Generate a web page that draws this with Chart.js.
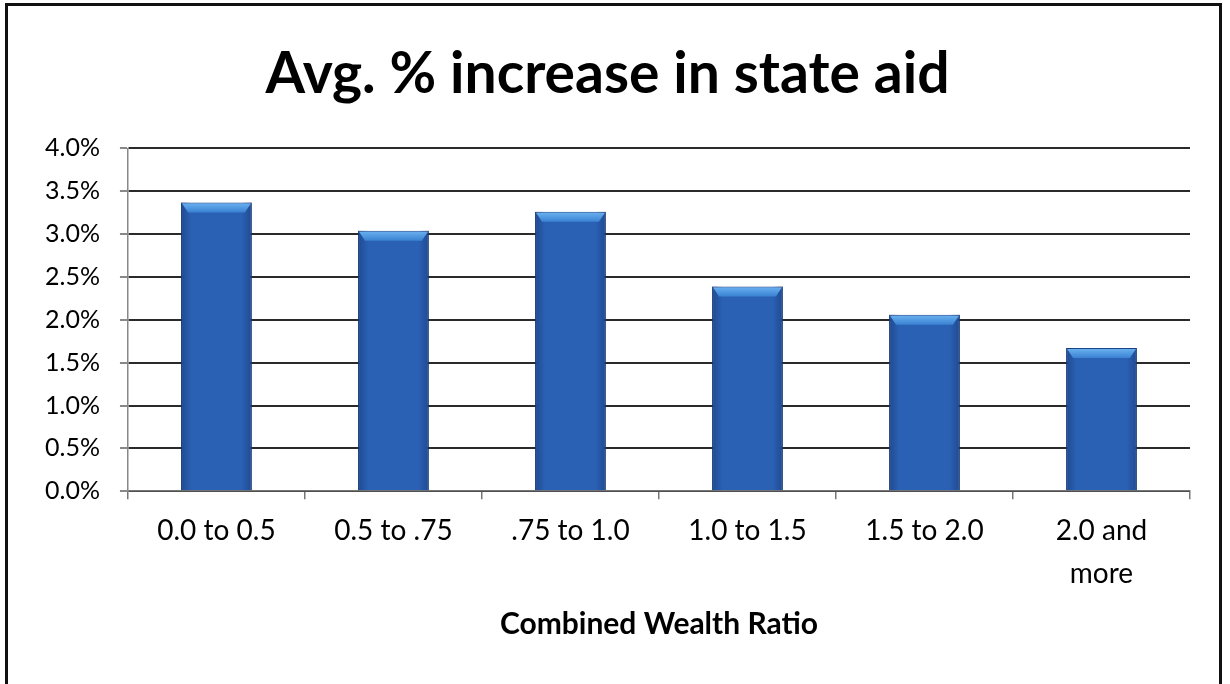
<!DOCTYPE html>
<html>
<head>
<meta charset="utf-8">
<script src="https://cdn.jsdelivr.net/npm/chart.js@4.4.0/dist/chart.umd.min.js"></script>
<style>
  html, body { margin: 0; padding: 0; background: #fff; }
  #marco { position: relative; width: 1230px; height: 684px; overflow: hidden; }
  #borde { position: absolute; left: 5px; top: 3px; width: 1217px; height: 700px; border: 3px solid #111; box-sizing: border-box; }
  canvas { position: absolute; left: 0; top: 0; }
</style>
</head>
<body>
<div id="marco">
  <div id="borde"></div>
  <canvas id="plot" width="1230" height="684"></canvas>
</div>
<script>
// datos
const categorias = ['0.0 to 0.5', '0.5 to .75', '.75 to 1.0', '1.0 to 1.5', '1.5 to 2.0', ['2.0 and', 'more']];
const valores = [3.37, 3.04, 3.26, 2.39, 2.06, 1.67];
const yMin = 0;
const yMax = 4;
const yPaso = 0.5;

const fuente = 'Lato, "Open Sans", sans-serif';

// brillo en la parte superior de cada barra
let bisel = {
  id: 'bisel',
  afterDatasetsDraw: (chart) => {
    let ctx = chart.ctx;
    let meta = chart.getDatasetMeta(0);
    meta.data.forEach(bar => {
      let izq = bar.x - bar.width / 2;
      let der = bar.x + bar.width / 2;
      let arriba = bar.y;
      // sombreado lateral
      let lado = ctx.createLinearGradient(izq, 0, der, 0);
      lado.addColorStop(0, 'rgba(10,30,80,0.35)');
      lado.addColorStop(0.15, 'rgba(10,30,80,0)');
      lado.addColorStop(0.85, 'rgba(10,30,80,0)');
      lado.addColorStop(1, 'rgba(10,30,80,0.35)');
      ctx.save();
      ctx.fillStyle = lado;
      ctx.fillRect(izq, arriba, bar.width, bar.base - arriba);
      let g = ctx.createLinearGradient(0, arriba, 0, arriba + 10);
      g.addColorStop(0, '#6db4f2');
      g.addColorStop(1, '#3a82d2');
      ctx.fillStyle = g;
      ctx.beginPath();
      ctx.moveTo(izq + 1, arriba + 1);
      ctx.lineTo(der - 1, arriba + 1);
      ctx.lineTo(der - 7, arriba + 10);
      ctx.lineTo(izq + 7, arriba + 10);
      ctx.closePath();
      ctx.fill();
      ctx.restore();
    });
  }
};

let plotRef = document.getElementById('plot');

let config = {
  type: 'bar',
  data: {
    labels: categorias,
    datasets: [
      {
        label: 'Avg. % increase',
        data: valores,
        backgroundColor: '#2b61b4',
        borderColor: '#1c4688',
        borderWidth: 1,
        barPercentage: 0.4,
        categoryPercentage: 1.0
      }
    ]
  },
  options: {
    responsive: false,
    animation: false,
    layout: { padding: { top: 40, left: 25, right: 40, bottom: 42 } },
    plugins: {
      legend: { display: false },
      tooltip: { enabled: false },
      title: {
        display: true,
        text: 'Avg. % increase in state aid',
        color: '#000',
        font: { family: fuente, size: 57, weight: 'bold' },
        padding: { top: 0, bottom: 40 }
      }
    },
    scales: {
      x: {
        grid: { display: true, drawOnChartArea: false, drawTicks: true, tickLength: 8, color: '#777', lineWidth: 1.5 },
        border: { display: true, color: '#777', width: 1.5 },
        ticks: {
          color: '#000',
          font: { family: fuente, size: 28, lineHeight: 1.55 },
          padding: 10,
          maxRotation: 0
        },
        title: {
          display: true,
          text: 'Combined Wealth Ratio',
          color: '#000',
          font: { family: fuente, size: 30, weight: 'bold' },
          padding: { top: 0, bottom: 0 }
        }
      },
      y: {
        min: yMin,
        max: yMax,
        grid: { color: '#2a2a2a', lineWidth: 2, tickLength: 8, tickColor: '#888' },
        border: { display: true, color: '#888', width: 1.5 },
        ticks: {
          stepSize: yPaso,
          color: '#000',
          font: { family: fuente, size: 25 },
          padding: 20,
          callback: (v) => v.toFixed(1) + '%'
        }
      }
    }
  },
  plugins: [bisel]
};

let chart1 = new Chart(plotRef, config);
</script>
</body>
</html>
